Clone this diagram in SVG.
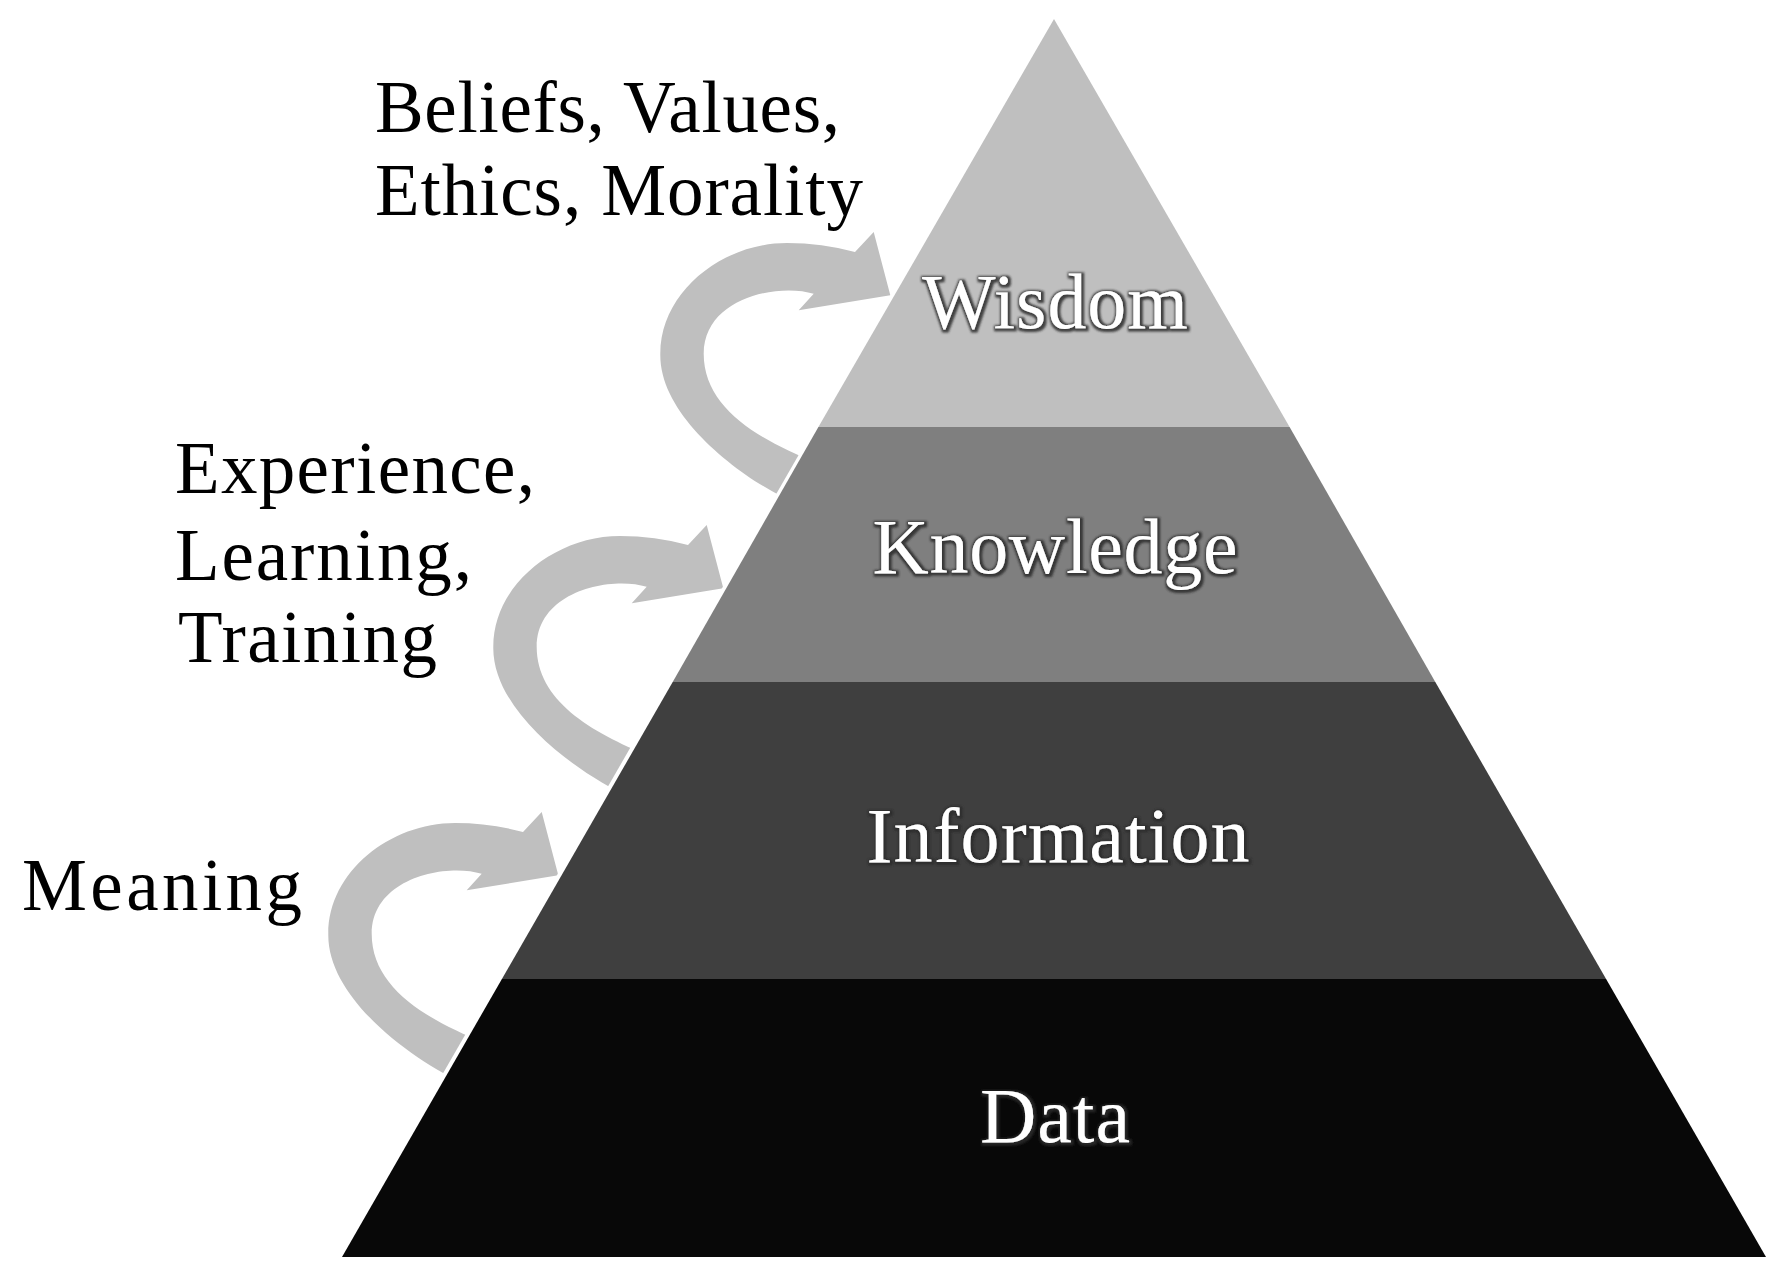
<svg xmlns="http://www.w3.org/2000/svg" xmlns:xlink="http://www.w3.org/1999/xlink" width="1789" height="1283" viewBox="0 0 1789 1283">
  <style>
    .lbl { font-family: "Liberation Serif", "Times New Roman", serif; font-size: 73px; fill: #000; }
    .tier { font-family: "Liberation Serif", "Times New Roman", serif; font-size: 78px; fill: #fff; text-anchor: middle; filter: url(#outline); }
    .arrow { fill: #bfbfbf; }
  </style>
  <defs>
    <filter id="outline" x="-10%" y="-30%" width="120%" height="160%">
      <feMorphology in="SourceAlpha" operator="dilate" radius="1.5" result="d"/>
      <feGaussianBlur in="d" stdDeviation="1.2" result="b"/>
      <feOffset in="b" dx="1" dy="1" result="o"/>
      <feFlood flood-color="#2a2a2a" flood-opacity="0.85"/>
      <feComposite in2="o" operator="in" result="s"/>
      <feMerge>
        <feMergeNode in="s"/>
        <feMergeNode in="SourceGraphic"/>
      </feMerge>
    </filter>
    <path id="curl" d="M 688,545 L 706.7,525 L 723.3,588.3 L 631.7,603.3 L 646.7,586.7 C 612,576 537,590 536.7,646.7 C 536.7,700 590,732 650,756 L 630,797 C 580,775 492,712 493.3,646.7 C 493.3,585 555,536 620,536 Q 655,536 688,545 Z"/>
  </defs>

  <rect width="1789" height="1283" fill="#fff"/>

  <g id="connectors">
    <use xlink:href="#curl" class="arrow" transform="translate(167,-293)"/>
    <use xlink:href="#curl" class="arrow"/>
    <use xlink:href="#curl" class="arrow" transform="translate(-165,287)"/>
    <line x1="1054" y1="19" x2="342" y2="1257" stroke="#fff" stroke-width="8"/>
  </g>

  <g id="tier-wisdom">
    <polygon points="1054,19 1289.6,427 818.4,427" fill="#bfbfbf"/>
    <text class="tier" x="1055" y="328" textLength="266">Wisdom</text>
  </g>
  <g id="tier-knowledge">
    <polygon points="818.4,427 1289.6,427 1435.3,682 672.7,682" fill="#7f7f7f"/>
    <text class="tier" x="1055" y="573" textLength="365">Knowledge</text>
  </g>
  <g id="tier-information">
    <polygon points="672.7,682 1435.3,682 1606.1,979 501.9,979" fill="#3f3f3f"/>
    <text class="tier" x="1058" y="862" textLength="383">Information</text>
  </g>
  <g id="tier-data">
    <polygon points="501.9,979 1606.1,979 1766,1257 342,1257" fill="#080808"/>
    <text class="tier" x="1055" y="1142" textLength="150">Data</text>
  </g>

  <g id="label-beliefs">
    <text class="lbl" x="375" y="132" textLength="465">Beliefs, Values,</text>
    <text class="lbl" x="375" y="215" textLength="488">Ethics, Morality</text>
  </g>
  <g id="label-experience">
    <text class="lbl" x="175" y="493" textLength="360">Experience,</text>
    <text class="lbl" x="175" y="580" textLength="297">Learning,</text>
    <text class="lbl" x="178" y="662" textLength="259">Training</text>
  </g>
  <g id="label-meaning">
    <text class="lbl" x="22" y="910" textLength="280">Meaning</text>
  </g>
</svg>
